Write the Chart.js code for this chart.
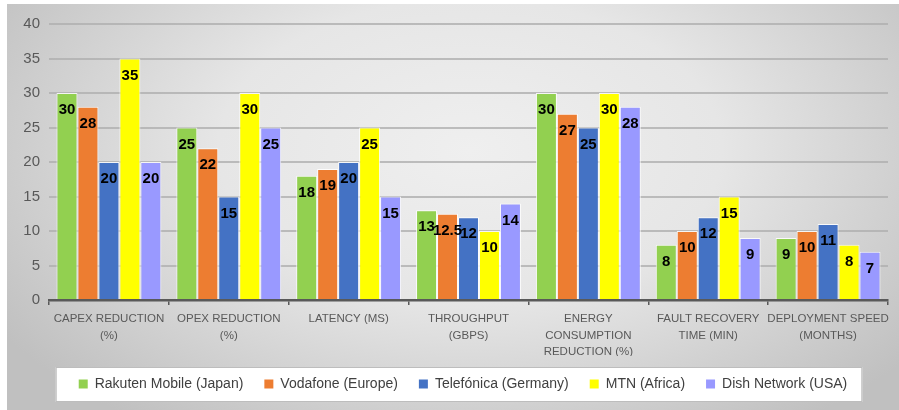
<!DOCTYPE html>
<html>
<head>
<meta charset="utf-8">
<script src="https://cdn.jsdelivr.net/npm/chart.js@4.4.1/dist/chart.umd.min.js"></script>
<style>
html,body{margin:0;padding:0;background:#fff;}
#wrap{width:899px;height:410px;position:relative;}
</style>
</head>
<body>
<div id="wrap"><canvas id="c" width="899" height="410"></canvas></div>
<script>
const categories = [
  ['CAPEX REDUCTION', '(%)'],
  ['OPEX REDUCTION', '(%)'],
  ['LATENCY (MS)'],
  ['THROUGHPUT', '(GBPS)'],
  ['ENERGY', 'CONSUMPTION', 'REDUCTION (%)'],
  ['FAULT RECOVERY', 'TIME (MIN)'],
  ['DEPLOYMENT SPEED', '(MONTHS)']
];
const seriesNames = ['Rakuten Mobile (Japan)', 'Vodafone (Europe)', 'Telefónica (Germany)', 'MTN (Africa)', 'Dish Network (USA)'];
const rakuten = [30, 25, 18, 13, 30, 8, 9];
const vodafone = [28, 22, 19, 12.5, 27, 10, 10];
const telefonica = [20, 15, 20, 12, 25, 12, 11];
const mtn = [35, 30, 25, 10, 30, 15, 8];
const dish = [20, 25, 15, 14, 28, 9, 7];
const yTicks = [0, 5, 10, 15, 20, 25, 30, 35, 40];

const colors = ['#92d050', '#ed7d31', '#4472c4', '#ffff00', '#9999ff'];
const seriesValues = [rakuten, vodafone, telefonica, mtn, dish];
const FONT = '"Liberation Sans", Arial, sans-serif';

const bgPlugin = {
  id: 'bg',
  beforeDraw(chart) {
    const ctx = chart.ctx;
    const W = chart.width, H = chart.height;
    ctx.save();
    ctx.fillStyle = '#ffffff';
    ctx.fillRect(0, 0, W, H);
    ctx.translate(470, 150);
    ctx.scale(1, 0.6);
    const g = ctx.createRadialGradient(0, 0, 0, 0, 0, 560);
    g.addColorStop(0, '#efefef');
    g.addColorStop(0.45, '#e6e6e6');
    g.addColorStop(1, '#c0c0c0');
    ctx.fillStyle = g;
    ctx.fillRect(-470 + 7, (4 - 150) / 0.6, W, H / 0.6 + 100);
    ctx.restore();
  }
};

// centre the legend on the same point as the reference (shift its box)
const legendShift = {
  id: 'legendShift',
  afterLayout(chart) {
    const lg = chart.legend;
    if (!lg) return;
    lg.left = 34;
    lg.right = 892;
  }
};

const whiteBoxBeforeLegend = {
  id: 'wbl',
  beforeDraw(chart) {
    const lg = chart.legend;
    if (!lg || !lg.legendHitBoxes || !lg.legendHitBoxes.length) return;
    const hb = lg.legendHitBoxes;
    const left = hb[0].left - 23;
    const right = hb[hb.length - 1].left + hb[hb.length - 1].width + 15;
    const cy = hb[0].top + hb[0].height / 2;
    const top = Math.round(cy - 17);
    const h = 35;
    const ctx = chart.ctx;
    ctx.save();
    ctx.fillStyle = '#ffffff';
    ctx.fillRect(left, top, right - left, h);
    ctx.strokeStyle = '#bdbdbd';
    ctx.lineWidth = 1;
    ctx.strokeRect(left + 0.5, top + 0.5, right - left - 1, h - 1);
    ctx.restore();
  }
};

const labelPlugin = {
  id: 'barLabels',
  afterDatasetsDraw(chart) {
    const ctx = chart.ctx;
    ctx.save();
    ctx.font = 'bold 15px ' + FONT;
    ctx.fillStyle = '#000';
    ctx.textAlign = 'center';
    ctx.textBaseline = 'middle';
    chart.data.datasets.forEach((ds, i) => {
      const meta = chart.getDatasetMeta(i);
      meta.data.forEach((bar, j) => {
        ctx.fillText(String(ds.data[j]), bar.x, bar.y + 17);
      });
    });
    ctx.restore();
  }
};

new Chart(document.getElementById('c'), {
  type: 'bar',
  data: {
    labels: categories,
    datasets: seriesNames.map((n, i) => ({
      label: n,
      data: seriesValues[i],
      backgroundColor: colors[i],
      borderColor: 'rgba(255,255,255,0.85)',
      borderWidth: 1,
      categoryPercentage: 0.875,
      barPercentage: 1.0
    }))
  },
  options: {
    responsive: false,
    animation: false,
    devicePixelRatio: 1,
    layout: { padding: { top: 24, right: 11, bottom: 9, left: 0 } },
    plugins: {
      tooltip: { enabled: false },
      legend: {
        position: 'bottom',
        labels: {
          font: { size: 14, family: FONT },
          color: '#404040',
          boxWidth: 9,
          boxHeight: 9,
          padding: 21,
          generateLabels(chart) {
            return chart.data.datasets.map((ds, i) => ({
              text: ds.label,
              fillStyle: colors[i],
              strokeStyle: colors[i],
              lineWidth: 0,
              hidden: false,
              datasetIndex: i,
              fontColor: '#404040'
            }));
          }
        }
      }
    },
    scales: {
      x: {
        afterFit(scale) { scale.height = 56; },
        grid: {
          display: true,
          drawOnChartArea: false,
          drawTicks: true,
          tickLength: 5,
          color: '#595959',
          lineWidth: 1.5,
          offset: true
        },
        border: { display: true, color: '#595959', width: 2.5 },
        ticks: {
          color: '#595959',
          font: { size: 11.5, family: FONT, lineHeight: 1.42 },
          maxRotation: 0,
          minRotation: 0,
          autoSkip: false,
          padding: 6
        }
      },
      y: {
        min: 0,
        max: 40,
        afterBuildTicks(scale) { scale.ticks = yTicks.map(v => ({ value: v })); },
        afterFit(scale) { scale.width = 49; },
        grid: {
          color: 'rgba(175,175,175,0.8)',
          lineWidth: 2,
          drawTicks: false
        },
        border: { display: false },
        ticks: {
          color: '#595959',
          padding: 9,
          font: { size: 15, family: FONT }
        }
      }
    }
  },
  plugins: [bgPlugin, legendShift, whiteBoxBeforeLegend, labelPlugin]
});
</script>
</body>
</html>
